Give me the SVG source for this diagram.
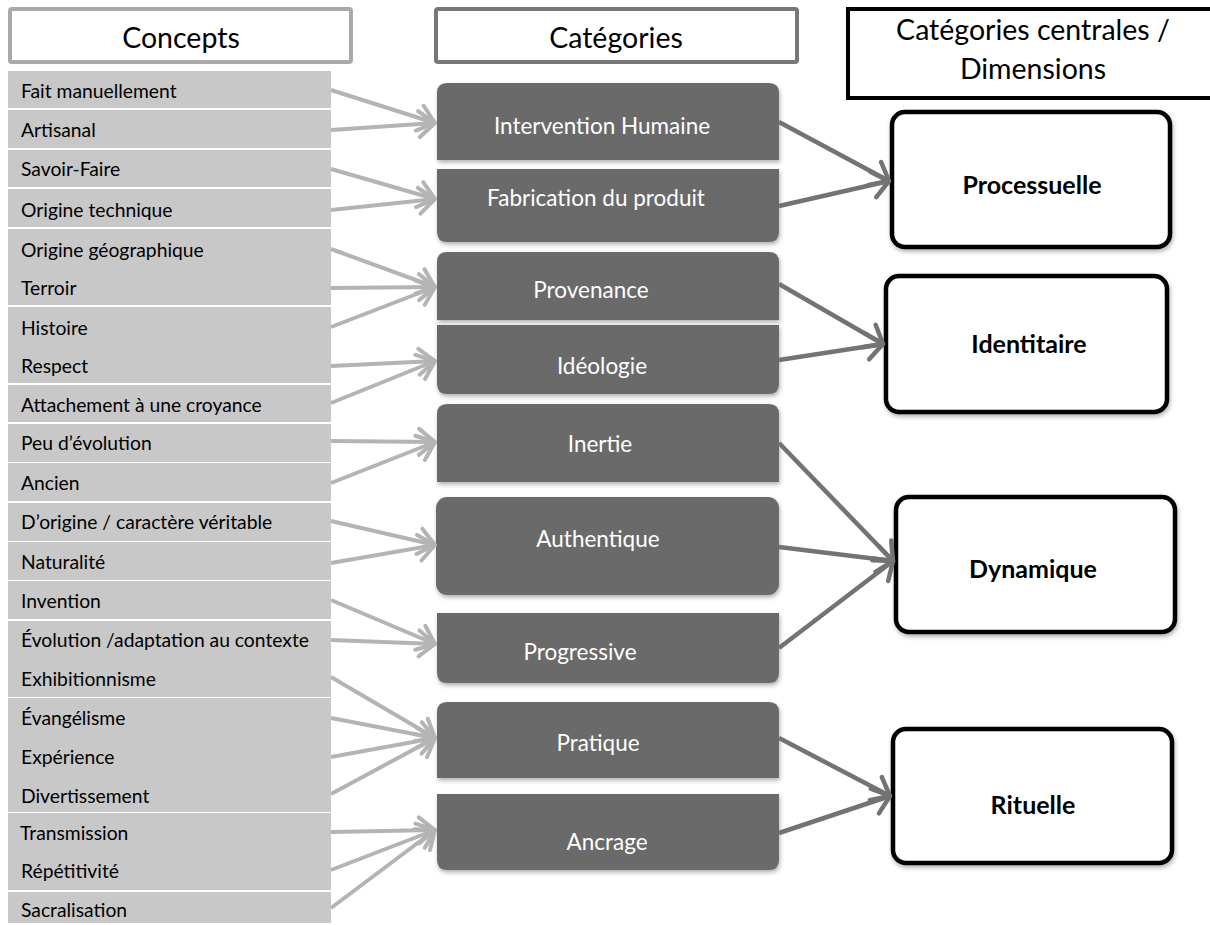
<svg xmlns="http://www.w3.org/2000/svg" width="1210" height="925" viewBox="0 0 1210 925">
<style>
  text { font-family: Lato, "Open Sans", sans-serif; }
  .hdr { font-size: 28.5px; fill: #000; text-anchor: middle; }
  .con { fill: #c8c8c8; }
  .ct { font-size: 19.3px; fill: #000; }
  .cat { fill: #6b6b6b; filter: url(#sh); }
  .catt { font-size: 22.5px; fill: #fff; text-anchor: middle; }
  .dim { fill: #fff; stroke: #000; stroke-width: 4.5; filter: url(#sh); }
  .dimt { font-size: 25px; font-weight: bold; fill: #000; text-anchor: middle; }
  .la { fill: none; stroke: #b4b4b4; stroke-width: 4; marker-end: url(#ahl); }
  .da { fill: none; stroke: #737373; stroke-width: 4.5; marker-end: url(#ahd); }
</style>
<defs>
  <filter id="sh" x="-5%" y="-10%" width="112%" height="125%">
    <feDropShadow dx="1" dy="2.5" stdDeviation="2" flood-color="#000" flood-opacity="0.3"/>
  </filter>
  <marker id="ahl" markerUnits="userSpaceOnUse" markerWidth="40" markerHeight="40" refX="0" refY="0" orient="auto" overflow="visible">
    <path d="M-16,-13 L0,0 L-16,13" fill="none" stroke="#b4b4b4" stroke-width="4" stroke-linecap="round" stroke-linejoin="round"/>
  </marker>
  <marker id="ahd" markerUnits="userSpaceOnUse" markerWidth="40" markerHeight="40" refX="0" refY="0" orient="auto" overflow="visible">
    <path d="M-16,-13 L0,0 L-16,13" fill="none" stroke="#737373" stroke-width="4.5" stroke-linecap="round" stroke-linejoin="round"/>
  </marker>
</defs>
<rect width="1210" height="925" fill="#fff"/>

<g id="headers">
  <g id="h-concepts">
    <rect x="10" y="9" width="341" height="53" rx="2" fill="#fff" stroke="#a9a9a9" stroke-width="4"/>
    <text class="hdr" x="181" y="48">Concepts</text>
  </g>
  <g id="h-categories">
    <rect x="436" y="9" width="361" height="53" rx="2" fill="#fff" stroke="#777" stroke-width="4"/>
    <text class="hdr" x="616" y="48">Catégories</text>
  </g>
  <g id="h-centrales">
    <rect x="848" y="9" width="372" height="89" fill="#fff" stroke="#000" stroke-width="4"/>
    <text class="hdr" x="1033" y="40">Catégories centrales /</text>
    <text class="hdr" x="1033" y="79">Dimensions</text>
  </g>
</g>

<g id="concepts">
  <rect class="con" x="8" y="71" width="323" height="37"/>
  <rect class="con" x="8" y="110" width="323" height="38"/>
  <rect class="con" x="8" y="150" width="323" height="37"/>
  <rect class="con" x="8" y="189" width="323" height="38"/>
  <rect class="con" x="8" y="229" width="323" height="76"/>
  <rect class="con" x="8" y="307" width="323" height="76"/>
  <rect class="con" x="8" y="385" width="323" height="37"/>
  <rect class="con" x="8" y="424" width="323" height="38"/>
  <rect class="con" x="8" y="463" width="323" height="38"/>
  <rect class="con" x="8" y="503" width="323" height="38"/>
  <rect class="con" x="8" y="542" width="323" height="38"/>
  <rect class="con" x="8" y="581" width="323" height="38"/>
  <rect class="con" x="8" y="621" width="323" height="76"/>
  <rect class="con" x="8" y="698" width="323" height="75"/>
  <rect class="con" x="8" y="773" width="323" height="39"/>
  <rect class="con" x="8" y="813" width="323" height="77"/>
  <rect class="con" x="8" y="892" width="323" height="31"/>
  <g id="c1"><text class="ct" x="21" y="98">Fait manuellement</text></g>
  <g id="c2"><text class="ct" x="21" y="137">Artisanal</text></g>
  <g id="c3"><text class="ct" x="21" y="176">Savoir-Faire</text></g>
  <g id="c4"><text class="ct" x="21" y="217">Origine technique</text></g>
  <g id="c5"><text class="ct" x="21" y="257">Origine géographique</text></g>
  <g id="c6"><text class="ct" x="21" y="295">Terroir</text></g>
  <g id="c7"><text class="ct" x="21" y="335">Histoire</text></g>
  <g id="c8"><text class="ct" x="21" y="373">Respect</text></g>
  <g id="c9"><text class="ct" x="21" y="412">Attachement à une croyance</text></g>
  <g id="c10"><text class="ct" x="21" y="450">Peu d’évolution</text></g>
  <g id="c11"><text class="ct" x="21" y="490">Ancien</text></g>
  <g id="c12"><text class="ct" x="21" y="529">D’origine / caractère véritable</text></g>
  <g id="c13"><text class="ct" x="21" y="569">Naturalité</text></g>
  <g id="c14"><text class="ct" x="21" y="608">Invention</text></g>
  <g id="c15"><text class="ct" x="21" y="647">Évolution /adaptation au contexte</text></g>
  <g id="c16"><text class="ct" x="21" y="686">Exhibitionnisme</text></g>
  <g id="c17"><text class="ct" x="21" y="725">Évangélisme</text></g>
  <g id="c18"><text class="ct" x="21" y="764">Expérience</text></g>
  <g id="c19"><text class="ct" x="21" y="803">Divertissement</text></g>
  <g id="c20"><text class="ct" x="20" y="840">Transmission</text></g>
  <g id="c21"><text class="ct" x="21" y="878">Répétitivité</text></g>
  <g id="c22"><text class="ct" x="21" y="917">Sacralisation</text></g>
</g>

<g id="categories">
  <g id="k1">
    <path class="cat" d="M437,93 Q437,83 447,83 H769 Q779,83 779,93 V160 H437 Z"/>
    <text class="catt" x="602" y="134">Intervention Humaine</text>
  </g>
  <g id="k2">
    <path class="cat" d="M437,169 H779 V232 Q779,242 769,242 H447 Q437,242 437,232 Z"/>
    <text class="catt" x="596" y="206">Fabrication du produit</text>
  </g>
  <g id="k3">
    <path class="cat" d="M437,262 Q437,252 447,252 H769 Q779,252 779,262 V320 H437 Z"/>
    <text class="catt" x="591" y="298">Provenance</text>
  </g>
  <g id="k4">
    <path class="cat" d="M437,325 H779 V384 Q779,394 769,394 H447 Q437,394 437,384 Z"/>
    <text class="catt" x="602" y="374">Idéologie</text>
  </g>
  <g id="k5">
    <path class="cat" d="M437,414 Q437,404 447,404 H769 Q779,404 779,414 V482 H437 Z"/>
    <text class="catt" x="600" y="452">Inertie</text>
  </g>
  <g id="k6">
    <rect class="cat" x="436" y="497" width="343" height="98" rx="11"/>
    <text class="catt" x="598" y="547">Authentique</text>
  </g>
  <g id="k7">
    <path class="cat" d="M437,613 H779 V673 Q779,683 769,683 H447 Q437,683 437,673 Z"/>
    <text class="catt" x="580" y="660">Progressive</text>
  </g>
  <g id="k8">
    <path class="cat" d="M437,712 Q437,702 447,702 H769 Q779,702 779,712 V778 H437 Z"/>
    <text class="catt" x="598" y="751">Pratique</text>
  </g>
  <g id="k9">
    <path class="cat" d="M437,794 H779 V860 Q779,870 769,870 H447 Q437,870 437,860 Z"/>
    <text class="catt" x="607" y="850">Ancrage</text>
  </g>
</g>

<g id="dimensions">
  <g id="d1">
    <rect class="dim" x="892" y="112" width="278" height="135" rx="13"/>
    <text class="dimt" x="1032" y="194">Processuelle</text>
  </g>
  <g id="d2">
    <rect class="dim" x="886" y="276" width="281" height="136" rx="13"/>
    <text class="dimt" x="1029" y="353">Identitaire</text>
  </g>
  <g id="d3">
    <rect class="dim" x="896" y="497" width="279" height="135" rx="13"/>
    <text class="dimt" x="1033" y="578">Dynamique</text>
  </g>
  <g id="d4">
    <rect class="dim" x="893" y="729" width="279" height="134" rx="13"/>
    <text class="dimt" x="1033" y="814">Rituelle</text>
  </g>
</g>

<g id="connectors">
  <line class="la" x1="331" y1="90" x2="435" y2="123"/>
  <line class="la" x1="331" y1="130" x2="435" y2="123"/>
  <line class="la" x1="331" y1="169" x2="435" y2="199"/>
  <line class="la" x1="331" y1="210" x2="435" y2="199"/>
  <line class="la" x1="331" y1="249" x2="435" y2="287"/>
  <line class="la" x1="331" y1="288" x2="435" y2="287"/>
  <line class="la" x1="331" y1="327" x2="435" y2="287"/>
  <line class="la" x1="331" y1="366" x2="435" y2="361"/>
  <line class="la" x1="331" y1="403" x2="435" y2="361"/>
  <line class="la" x1="331" y1="441" x2="435" y2="442"/>
  <line class="la" x1="331" y1="483" x2="435" y2="442"/>
  <line class="la" x1="331" y1="521" x2="435" y2="545"/>
  <line class="la" x1="331" y1="563" x2="435" y2="545"/>
  <line class="la" x1="331" y1="600" x2="435" y2="644"/>
  <line class="la" x1="331" y1="640" x2="435" y2="644"/>
  <line class="la" x1="331" y1="677" x2="435" y2="738"/>
  <line class="la" x1="331" y1="718" x2="435" y2="738"/>
  <line class="la" x1="331" y1="757" x2="435" y2="738"/>
  <line class="la" x1="331" y1="794" x2="435" y2="738"/>
  <line class="la" x1="331" y1="832" x2="435" y2="830"/>
  <line class="la" x1="331" y1="870" x2="435" y2="830"/>
  <line class="la" x1="331" y1="908" x2="435" y2="830"/>
  <line class="da" x1="779" y1="122" x2="889" y2="181"/>
  <line class="da" x1="779" y1="206" x2="889" y2="181"/>
  <line class="da" x1="779" y1="284" x2="883" y2="344"/>
  <line class="da" x1="779" y1="360" x2="883" y2="344"/>
  <line class="da" x1="779" y1="443" x2="893" y2="561"/>
  <line class="da" x1="779" y1="547" x2="893" y2="561"/>
  <line class="da" x1="779" y1="648" x2="893" y2="561"/>
  <line class="da" x1="779" y1="738" x2="890" y2="796"/>
  <line class="da" x1="779" y1="833" x2="890" y2="796"/>
</g>
</svg>
